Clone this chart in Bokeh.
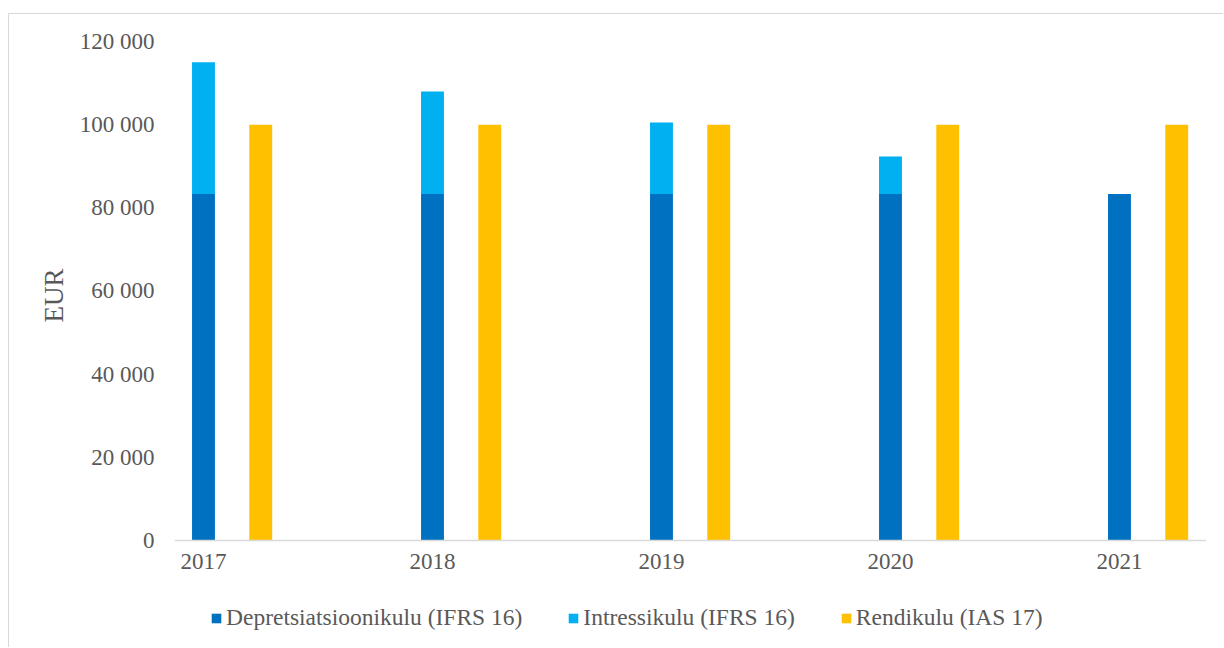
from bokeh.plotting import figure
from bokeh.models import ColumnDataSource, Range1d, FixedTicker, Legend, LegendItem, Title
from bokeh.transform import dodge
from bokeh.embed import file_html
from bokeh.resources import INLINE

years = ["2017", "2018", "2019", "2020", "2021"]
depreciation = [83333, 83333, 83333, 83333, 83333]
interest = [31667, 24667, 17167, 9000, 0]
rent = [100000, 100000, 100000, 100000, 100000]
y_ticks = [0, 20000, 40000, 60000, 80000, 100000, 120000]
y_tick_labels = ["0", "20 000", "40 000", "60 000", "80 000", "100 000", "120 000"]
y_title = "EUR"
series_names = ["Depretsiatsioonikulu (IFRS 16)", "Intressikulu (IFRS 16)", "Rendikulu (IAS 17)"]
colors = ["#0070C0", "#00B0F0", "#FFC000"]

FONT = "Liberation Serif"
TXT = "#595959"

src = ColumnDataSource(dict(idx=list(range(len(years))), dep=depreciation, intr=interest, rent=rent))

# frame spans down to the bottom of the canvas; the x axis is pinned at y = 0
p = figure(width=1215, height=634, output_backend="svg", toolbar_location=None,
           x_range=Range1d(-0.1266, 4.380), y_range=Range1d(-25972, 120000),
           min_border_left=165, min_border_right=18, min_border_top=27, min_border_bottom=0)
p.styles = {"margin-left": "8px", "margin-top": "13px",
            "border-top": "1px solid #D9D9D9", "border-left": "1px solid #D9D9D9"}
p.outline_line_color = None
p.xgrid.grid_line_color = None
p.ygrid.grid_line_color = None

stack = p.vbar_stack(["dep", "intr"], x="idx", width=0.1, source=src,
                     color=colors[:2], line_color=None)
r_rent = p.vbar(x=dodge("idx", 0.25), top="rent", width=0.1, source=src,
                color=colors[2], line_color=None)

# axes
p.xaxis.fixed_location = 0
p.xaxis.ticker = FixedTicker(ticks=list(range(len(years))))
p.xaxis.major_label_overrides = {i: y for i, y in enumerate(years)}
p.xaxis.axis_line_color = "#D9D9D9"
p.xaxis.axis_line_width = 1.5
p.xaxis.major_tick_line_color = None
p.xaxis.minor_tick_line_color = None
p.xaxis.major_tick_out = 0
p.xaxis.major_label_standoff = 14

p.yaxis.ticker = FixedTicker(ticks=y_ticks)
p.yaxis.major_label_overrides = dict(zip(y_ticks, y_tick_labels))
p.yaxis.axis_line_color = None
p.yaxis.major_tick_line_color = None
p.yaxis.minor_tick_line_color = None
p.yaxis.major_tick_out = 0
p.yaxis.major_label_standoff = 20

for ax in (p.xaxis[0], p.yaxis[0]):
    ax.major_label_text_font = FONT
    ax.major_label_text_font_size = "23px"
    ax.major_label_text_color = TXT

# y axis title, placed beside the value range of the plot (not the whole frame)
ytitle = Title(text=y_title, align="right", offset=227, standoff=16,
               text_font=FONT, text_font_size="27px", text_color=TXT,
               text_font_style="normal")
p.add_layout(ytitle, "left")

legend = Legend(items=[LegendItem(label=series_names[0], renderers=[stack[0]]),
                       LegendItem(label=series_names[1], renderers=[stack[1]]),
                       LegendItem(label=series_names[2], renderers=[r_rent])],
                orientation="horizontal", location=(36, 17),
                glyph_width=12, glyph_height=12, label_standoff=4, spacing=45,
                padding=0, margin=0, border_line_color=None, background_fill_alpha=0,
                label_text_font=FONT, label_text_font_size="23.5px", label_text_color=TXT)
p.add_layout(legend, "center")

open("out.html", "w").write(file_html(p, INLINE))
